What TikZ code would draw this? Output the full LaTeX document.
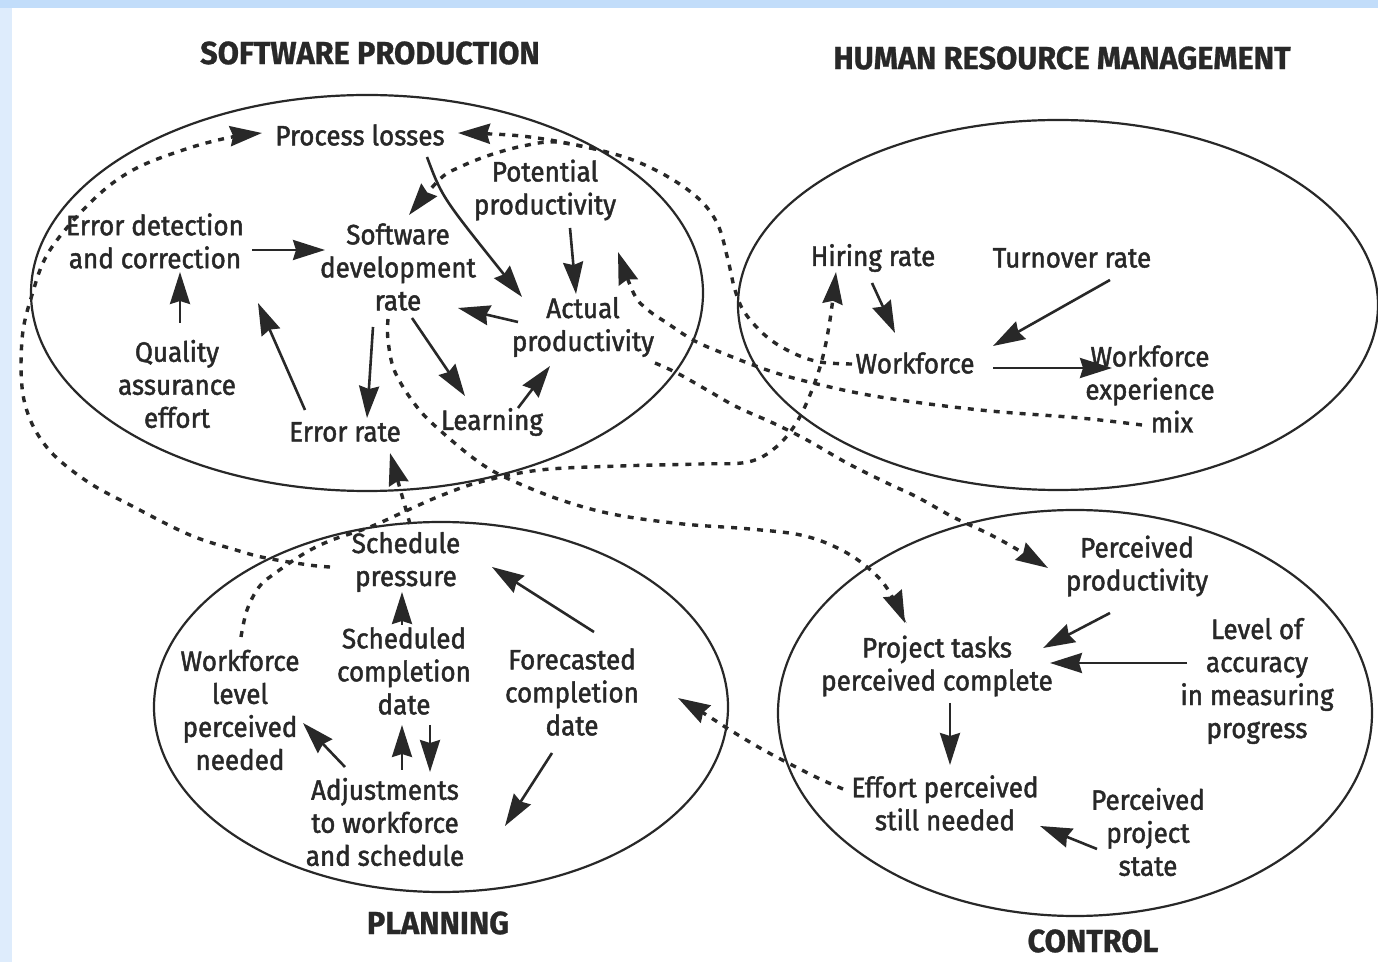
\documentclass[tikz,border=0pt]{standalone}
\usepackage{fontspec}
\setmainfont{Fira Sans}[FakeStretch=0.93,FakeBold=1.6]
\newfontfamily\headfont{Fira Sans}[FakeStretch=0.96,FakeBold=0.8]
\usetikzlibrary{arrows.meta,calc}
\definecolor{ink}{RGB}{40,40,40}
\definecolor{topblue}{RGB}{194,221,250}
\definecolor{sideblue}{RGB}{222,236,252}

\begin{document}
\begin{tikzpicture}[x=0.5pt,y=-0.5pt,
  lbl/.style={align=center,font=\fontsize{14}{16.5}\selectfont,text=ink,inner sep=1pt},
  head/.style={font=\headfont\bfseries\fontsize{16}{18}\selectfont,text=ink},
  region/.style={draw=ink,line width=1.1pt},
  tip/.style={-{Stealth[length=16pt,width=10pt,inset=1.5pt]}},
  arr/.style={draw=ink,line width=1.3pt,tip},
  dotarr/.style={draw=ink,line width=1.7pt,dash pattern=on 3pt off 3.5pt,tip},
  dotpath/.style={draw=ink,line width=1.7pt,dash pattern=on 3pt off 3.5pt}
]
\useasboundingbox (0,0) rectangle (1378,962);

% page frame
\fill[sideblue] (0,0) rectangle (1378,962);
\fill[topblue] (0,0) rectangle (1378,8);
\fill[white] (12,8) rectangle (1378,962);

% sector outlines
\draw[region] (367,293) ellipse [x radius=336, y radius=198];
\draw[region] (1058,305) ellipse [x radius=320, y radius=185];
\draw[region] (441,707) ellipse [x radius=287, y radius=185];
\draw[region] (1075,713) ellipse [x radius=297, y radius=203];

% sector titles
\node[head] (tSP)  at (370,53)  {SOFTWARE PRODUCTION};
\node[head] (tHRM) at (1062,58) {HUMAN RESOURCE MANAGEMENT};
\node[head] (tPL)  at (438,923) {PLANNING};
\node[head] (tCT)  at (1093,941) {CONTROL};

% software production
\node[lbl] (PL)  at (360,135) {Process losses};
\node[lbl] (PP)  at (545,190) {Potential\\productivity};
\node[lbl] (ED)  at (155,241) {Error detection\\and correction};
\node[lbl] (SDR) at (398,267) {Software\\development\\rate};
\node[lbl] (AP)  at (583,327) {Actual\\productivity};
\node[lbl] (QA)  at (177,384) {Quality\\assurance\\effort};
\node[lbl] (ER)  at (345,432) {Error rate};
\node[lbl] (LE)  at (492,422) {Learning};

% human resource management
\node[lbl] (HR)  at (873,258) {Hiring rate};
\node[lbl] (TR)  at (1072,258) {Turnover rate};
\node[lbl] (WF)  at (915,363) {Workforce};
\node[lbl] (WEM) at (1150,389) {Workforce\\experience\\\hspace*{22pt}mix};

% planning
\node[lbl] (SP)  at (406,562) {Schedule\\pressure};
\node[lbl] (SCD) at (404,671) {Scheduled\\completion\\date};
\node[lbl] (FCD) at (572,692) {Forecasted\\completion\\date};
\node[lbl] (WLP) at (240,710) {Workforce\\level\\perceived\\needed};
\node[lbl] (ADJ) at (385,822) {Adjustments\\to workforce\\and schedule};

% control
\node[lbl] (PPR) at (1137,566) {Perceived\\productivity};
\node[lbl] (PTC) at (937,666) {Project tasks\\perceived complete};
\node[lbl] (LAM) at (1257,681) {Level of\\accuracy\\in measuring\\progress};
\node[lbl] (EPS) at (945,803) {Effort perceived\\still needed};
\node[lbl] (PPS) at (1148,832) {Perceived\\project\\state};

% solid links inside the sectors
\draw[arr] ($(ED)+(97,9)$) -- ($(SDR)+(-73,-17)$);
\draw[arr] ($(QA)+(3,-61)$) -- ($(ED)+(25,31)$);
\draw[arr] ($(ER)+(-40,-22)$) -- ($(ED)+(103,62)$);
\draw[arr] ($(SDR)+(-25,60)$) -- ($(ER)+(22,-14)$);
\draw[arr] ($(SDR)+(14,51)$) -- ($(LE)+(-27,-26)$);
\draw[arr] ($(LE)+(26,-14)$) -- ($(AP)+(-33,39)$);
\draw[arr] ($(AP)+(-65,-5)$) -- ($(SDR)+(60,41)$);
\draw[arr] ($(PP)+(25,38)$) -- ($(AP)+(-7,-33)$);
\draw[arr] ($(PL)+(67,22)$) .. controls ($(PL)+(82,62)$) .. ($(AP)+(-61,-30)$);

\draw[arr] ($(HR)+(-1,25)$) -- ($(WF)+(-20,-30)$);
\draw[arr] ($(TR)+(38,22)$) -- ($(WF)+(78,-17)$);
\draw[arr] ($(WF)+(78,5)$) -- ($(WEM)+(-38,-21)$);

\draw[arr] ($(SCD)+(-2,-46)$) -- ($(SP)+(-4,30)$);
\draw[arr] ($(ADJ)+(17,-52)$) -- ($(SCD)+(-2,54)$);
\draw[arr] ($(SCD)+(26,54)$) -- ($(ADJ)+(45,-50)$);
\draw[arr] ($(ADJ)+(-40,-55)$) -- ($(WLP)+(63,13)$);
\draw[arr] ($(FCD)+(22,-60)$) -- ($(SP)+(86,5)$);
\draw[arr] ($(FCD)+(-20,61)$) -- ($(ADJ)+(120,4)$);

\draw[arr] ($(PPR)+(-27,47)$) -- ($(PTC)+(106,-18)$);
\draw[arr] ($(LAM)+(-70,-18)$) -- ($(PTC)+(113,-3)$);
\draw[arr] ($(PTC)+(13,37)$) -- ($(EPS)+(5,-38)$);
\draw[arr] ($(PPS)+(-51,17)$) -- ($(EPS)+(95,23)$);

% dotted links between the sectors
\coordinate (d1s) at ($(SP)+(-76,5)$);
\coordinate (d1e) at ($(PL)+(-98,-2)$);
\draw[dotarr] plot[smooth,tension=0.6] coordinates {(d1s) (309,565) (266,558) (236,550) (190,535) (134,507) (85,480) (45,445) (24,400) (22,340) (32,295) (50,250) (93,200) (133,170) (183,150) (227,138) (d1e)};

\coordinate (d2s) at ($(WLP)+(1,-73)$);
\coordinate (d2e) at ($(HR)+(-37,14)$);
\draw[dotarr] plot[smooth,tension=0.6] coordinates {(d2s) (247,610) (259,587) (274,574) (305,553) (332,540) (370,527) (408,510) (440,496) (480,482) (540,470) (620,466) (700,464) (748,462) (775,448) (795,425) (810,395) (822,360) (830,320) (d2e)};

\coordinate (d3s) at ($(WF)+(-63,1)$);
\coordinate (wfsplit) at (595,149);
\coordinate (d3e) at ($(PL)+(98,-2)$);
\draw[dotpath] plot[smooth,tension=0.6] coordinates {(d3s) (820,362) (793,353) (767,337) (745,313) (735,290) (728,260) (718,225) (700,200) (670,178) (633,160) (wfsplit)};
\draw[dotarr] plot[smooth,tension=0.6] coordinates {(wfsplit) (550,140) (510,135) (d3e)};
\coordinate (d9e) at ($(SDR)+(11,-52)$);
\draw[dotarr] plot[smooth,tension=0.6] coordinates {(wfsplit) (555,142) (523,146) (490,155) (460,167) (440,179) (d9e)};

\coordinate (d4s) at ($(WEM)+(-8,36)$);
\coordinate (d4e) at ($(PP)+(73,62)$);
\draw[dotarr] plot[smooth,tension=0.6] coordinates {(d4s) (1080,418) (980,410) (880,397) (813,383) (767,370) (720,352) (693,340) (667,323) (648,310) (634,294) (d4e)};

\coordinate (d5s) at ($(AP)+(72,36)$);
\coordinate (d5e) at ($(PPR)+(-89,2)$);
\draw[dotarr] plot[smooth,tension=0.6] coordinates {(d5s) (677,373) (707,390) (737,407) (773,423) (807,440) (847,463) (887,483) (917,497) (953,517) (987,533) (1013,547) (d5e)};

\coordinate (d6s) at ($(SDR)+(-10,52)$);
\coordinate (d6e) at ($(PTC)+(-32,-43)$);
\draw[dotarr] plot[smooth,tension=0.6] coordinates {(d6s) (388,340) (395,372) (417,407) (443,433) (483,465) (520,484) (567,502) (617,515) (683,524) (750,529) (805,536) (847,553) (878,577) (894,600) (d6e)};

\coordinate (d7s) at ($(EPS)+(-102,-14)$);
\coordinate (d7e) at ($(FCD)+(106,6)$);
\draw[dotarr] plot[smooth,tension=0.6] coordinates {(d7s) (820,779) (790,764) (760,748) (730,730) (705,714) (d7e)};

\draw[dotarr] ($(SP)+(4,-38)$) -- ($(ER)+(45,21)$);
\end{tikzpicture}
\end{document}
